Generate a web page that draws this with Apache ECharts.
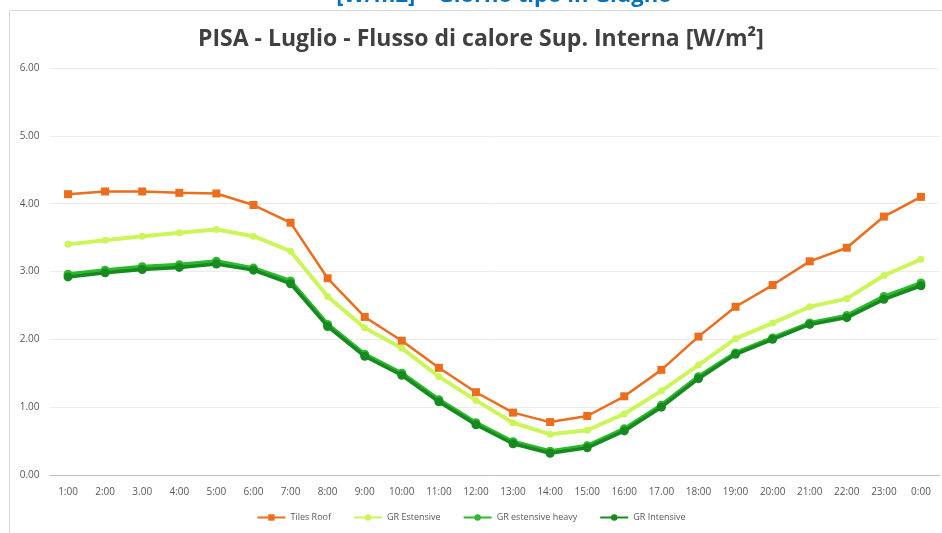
<!DOCTYPE html>
<html>
<head>
<meta charset="utf-8">
<script src="https://cdn.jsdelivr.net/npm/echarts@6/dist/echarts.min.js"></script>
<style>
html,body{margin:0;padding:0;background:#fff;}
#c{width:942px;height:533px;}
</style>
</head>
<body>
<div id="c"></div>
<script>
const categories = ['1:00','2:00','3.00','4:00','5:00','6:00','7:00','8:00','9:00','10:00','11:00','12:00','13:00','14:00','15:00','16:00','17.00','18:00','19:00','20:00','21:00','22:00','23:00','0:00'];
const tilesRoof = [4.14,4.18,4.18,4.16,4.15,3.98,3.72,2.90,2.33,1.98,1.58,1.22,0.92,0.78,0.87,1.16,1.55,2.04,2.48,2.80,3.15,3.35,3.81,4.10];
const grEstensive = [3.40,3.46,3.52,3.57,3.62,3.52,3.30,2.63,2.17,1.87,1.45,1.10,0.77,0.60,0.66,0.90,1.24,1.62,2.01,2.24,2.48,2.60,2.94,3.18];
const grEstensiveHeavy = [2.96,3.02,3.07,3.10,3.15,3.05,2.86,2.22,1.78,1.50,1.11,0.77,0.49,0.35,0.43,0.68,1.03,1.45,1.80,2.02,2.24,2.35,2.63,2.83];
const grIntensive = [2.92,2.98,3.03,3.06,3.11,3.02,2.82,2.19,1.75,1.47,1.08,0.74,0.46,0.32,0.40,0.65,1.00,1.42,1.78,2.00,2.22,2.32,2.59,2.79];
const seriesNames = ['Tiles Roof','GR Estensive','GR estensive heavy','GR Intensive'];

const chart = echarts.init(document.getElementById('c'), null, {renderer:'canvas'});
const font = '"Open Sans", "Liberation Sans", sans-serif';
chart.setOption({
  backgroundColor:'#ffffff',
  animation:false,
  graphic:[
    {type:'rect', shape:{x:9.5,y:10.5,width:940,height:530}, style:{fill:'none', stroke:'#d9d9d9', lineWidth:1}},
    {type:'text', x:504, y:-15, style:{text:'[W/m2] – Giorno tipo in Giugno', fill:'#0070C0', align:'center', font:'bold 22px "Open Sans", sans-serif'}}
  ],
  title:{
    text:'PISA - Luglio - Flusso di calore Sup. Interna [W/m²]',
    left:193, top:23,
    textStyle:{fontFamily:font, fontWeight:'bold', fontSize:23, color:'#404040'}
  },
  legend:{
    bottom:6, left:'center', itemGap:22, itemWidth:28, itemHeight:8,
    textStyle:{fontFamily:font, fontSize:9, color:'#595959'},
    data:seriesNames
  },
  grid:{left:49.5, right:2.5, top:68, bottom:58},
  xAxis:{
    type:'category', data:categories, boundaryGap:true,
    axisLine:{lineStyle:{color:'#bfbfbf', width:1}},
    axisTick:{show:false},
    axisLabel:{fontFamily:font, fontSize:10, color:'#595959', margin:12, interval:0}
  },
  yAxis:{
    type:'value', min:0, max:6, interval:1,
    axisLine:{show:false}, axisTick:{show:false},
    splitLine:{lineStyle:{color:'#ececec', width:1}},
    axisLabel:{fontFamily:font, fontSize:10, color:'#595959', margin:10, formatter:v=>v.toFixed(2)}
  },
  series:[
    {name:seriesNames[0], type:'line', data:tilesRoof, symbol:'rect', symbolSize:8,
     lineStyle:{color:'#EC6E1C', width:2.5}, itemStyle:{color:'#EC6E1C'}, z:5},
    {name:seriesNames[1], type:'line', data:grEstensive, symbol:'circle', symbolSize:7,
     lineStyle:{color:'#CCF55A', width:4}, itemStyle:{color:'#CCF55A'}, z:4},
    {name:seriesNames[2], type:'line', data:grEstensiveHeavy, symbol:'circle', symbolSize:9,
     lineStyle:{color:'#2DB82D', width:4}, itemStyle:{color:'#2DB82D'}, z:3},
    {name:seriesNames[3], type:'line', data:grIntensive, symbol:'circle', symbolSize:9,
     lineStyle:{color:'#168A1E', width:3.5}, itemStyle:{color:'#168A1E'}, z:6}
  ]
});
</script>
</body>
</html>
